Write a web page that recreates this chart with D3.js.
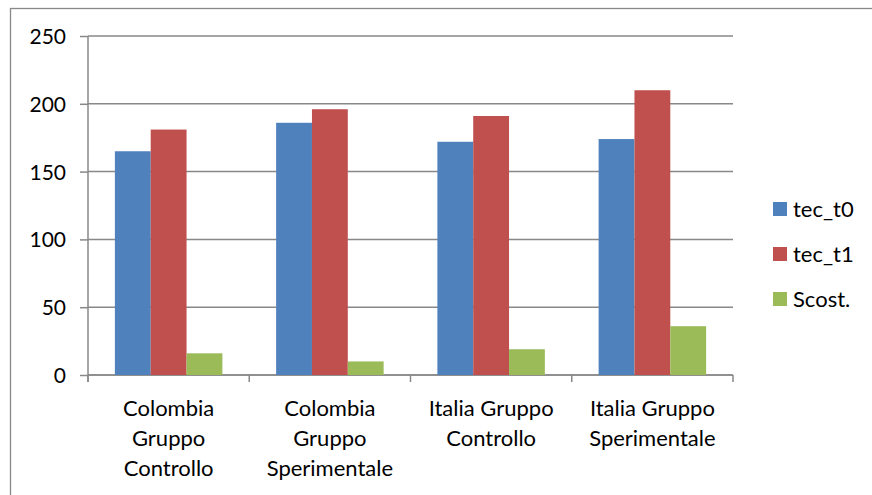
<!DOCTYPE html>
<html lang="it">
<head>
    <meta charset="UTF-8">
    <title>tec_t0 / tec_t1</title>
    <script src="https://d3js.org/d3.v7.min.js"></script>
    <style>
        body { margin: 0; background: #fff; }
        svg text { font-family: Lato, "Open Sans", sans-serif; fill: #000; }
    </style>
</head>
<body>
<script>
    // data
    const categories = [
        ["Colombia", "Gruppo", "Controllo"],
        ["Colombia", "Gruppo", "Sperimentale"],
        ["Italia Gruppo", "Controllo"],
        ["Italia Gruppo", "Sperimentale"]
    ];
    const seriesNames = ["tec_t0", "tec_t1", "Scost."];
    const tecT0 = [165, 186, 172, 174];
    const tecT1 = [181, 196, 191, 210];
    const scost = [16, 10, 19, 36];
    const yTicks = [0, 50, 100, 150, 200, 250];
    const colors = ["#4F81BD", "#C0504D", "#9BBB59"];

    const width = 872, height = 495;
    const margin = {top: 36, left: 88, right: 139, bottom: 120};
    const plotW = width - margin.left - margin.right;
    const plotH = height - margin.top - margin.bottom;

    const svg = d3.select("body").append("svg")
        .attr("width", width)
        .attr("height", height);

    // outer chart border (runs off the right and bottom edge)
    svg.append("rect")
        .attr("x", 10.5).attr("y", 8.5)
        .attr("width", 900).attr("height", 600)
        .attr("fill", "none")
        .attr("stroke", "#888")
        .attr("stroke-width", 1.3);

    const g = svg.append("g").attr("transform", `translate(${margin.left},${margin.top})`);

    // Excel: gap width 150% -> group = 3 bars, gap = 1.5 bars
    const groupX = d3.scaleBand().domain(d3.range(categories.length)).range([0, plotW]);
    const barW = groupX.bandwidth() / 4.5;
    const inner = d3.scaleBand().domain(d3.range(3)).range([0, barW * 3]);

    const y = d3.scaleLinear().domain([0, 250]).range([plotH, 0]);

    // gridlines
    g.append("g")
        .selectAll("line")
        .data(yTicks)
        .join("line")
        .attr("x1", 0).attr("x2", plotW)
        .attr("y1", d => y(d)).attr("y2", d => y(d))
        .attr("stroke", "#888")
        .attr("stroke-width", 1.5);

    // y axis
    const yAxis = g.append("g")
        .call(d3.axisLeft(y).tickValues(yTicks).tickSize(8).tickPadding(14).tickFormat(d3.format("d")));
    yAxis.select(".domain").attr("stroke", "#888").attr("stroke-width", 1.5).attr("d", `M0,0V${plotH + 7}`);
    yAxis.selectAll(".tick line").attr("stroke", "#888").attr("stroke-width", 1.5);
    yAxis.selectAll(".tick text").style("font-size", "21px").attr("dy", "0.36em");

    // x axis line + boundary ticks
    g.append("line")
        .attr("x1", 0).attr("x2", plotW)
        .attr("y1", plotH).attr("y2", plotH)
        .attr("stroke", "#888").attr("stroke-width", 1.5);
    g.append("g")
        .selectAll("line")
        .data(d3.range(categories.length + 1))
        .join("line")
        .attr("x1", i => i * groupX.step()).attr("x2", i => i * groupX.step())
        .attr("y1", plotH).attr("y2", plotH + 7)
        .attr("stroke", "#888").attr("stroke-width", 1.5);

    // bars
    const series = [tecT0, tecT1, scost];
    const groups = g.append("g")
        .selectAll("g")
        .data(categories.map((c, i) => i))
        .join("g")
        .attr("transform", i => `translate(${groupX(i) + (groupX.bandwidth() - barW * 3) / 2},0)`);

    groups.selectAll("rect")
        .data(i => series.map((s, k) => ({k, v: s[i]})))
        .join("rect")
        .attr("x", d => inner(d.k))
        .attr("width", inner.bandwidth())
        .attr("y", d => y(d.v))
        .attr("height", d => plotH - y(d.v))
        .attr("fill", d => colors[d.k]);

    // category labels
    const labels = g.append("g")
        .selectAll("text")
        .data(categories)
        .join("text")
        .attr("text-anchor", "middle")
        .attr("transform", (c, i) => `translate(${groupX(i) + groupX.bandwidth() / 2},${plotH + 41})`)
        .style("font-size", "22px");
    labels.selectAll("tspan")
        .data(c => c)
        .join("tspan")
        .attr("x", 0)
        .attr("y", (d, j) => j * 30)
        .text(d => d);

    // legend
    const legend = svg.append("g").attr("transform", "translate(773,209)");
    const item = legend.selectAll("g")
        .data(seriesNames)
        .join("g")
        .attr("transform", (d, i) => `translate(0,${i * 45})`);
    item.append("rect")
        .attr("x", 0).attr("y", -7)
        .attr("width", 14).attr("height", 14)
        .attr("fill", (d, i) => colors[i]);
    item.append("text")
        .attr("x", 20)
        .attr("dy", "0.36em")
        .style("font-size", "22px")
        .text(d => d);
</script>
</body>
</html>
